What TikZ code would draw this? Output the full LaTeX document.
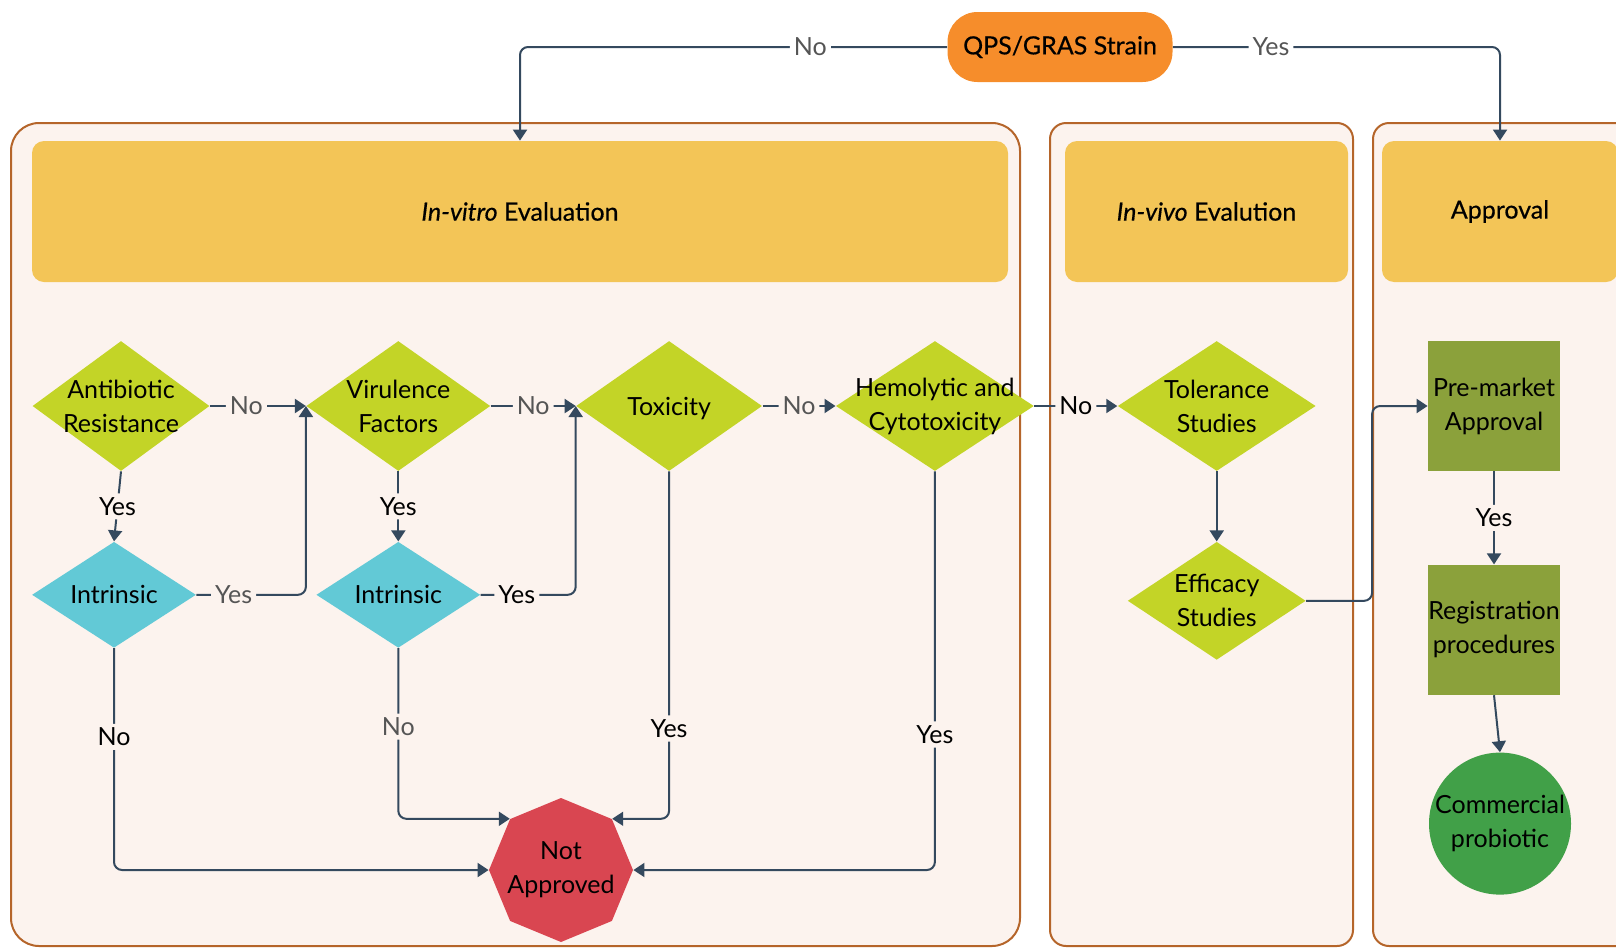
\documentclass[tikz,border=0pt]{standalone}
\usepackage{fontspec}
\setmainfont{Lato}
\newfontfamily\headfont{Lato}[FakeBold=0.5]
\usetikzlibrary{arrows.meta,positioning,shapes.geometric}
\definecolor{panelbg}{HTML}{FCF3EE}
\definecolor{panelline}{HTML}{B5652A}
\definecolor{headbg}{HTML}{F3C557}
\definecolor{qpsorange}{HTML}{F68D2B}
\definecolor{testgreen}{HTML}{C3D427}
\definecolor{intrcyan}{HTML}{62C9D6}
\definecolor{stepolive}{HTML}{8BA13B}
\definecolor{probgreen}{HTML}{41A048}
\definecolor{notred}{HTML}{D94651}
\definecolor{flowline}{HTML}{34495E}
\definecolor{lblgrey}{HTML}{555555}
\tikzset{
    panel/.style={draw=panelline,line width=1pt,fill=panelbg},
    header/.style={fill=headbg,rounded corners=6pt,minimum height=70.5pt,inner sep=0pt,font=\fontsize{12.5pt}{17pt}\headfont},
    test/.style={diamond,fill=testgreen,inner sep=0pt,minimum height=65pt},
    intr/.style={diamond,fill=intrcyan,inner sep=0pt,minimum width=82pt,minimum height=53pt},
    stepbox/.style={rectangle,fill=stepolive,inner sep=0pt,minimum width=66pt,minimum height=65pt,align=center},
    flow/.style={->,draw=flowline,line width=1pt,rounded corners=4pt},
    lbl/.style={fill=panelbg,inner sep=2pt},
    glbl/.style={lbl,text=lblgrey},
    toplbl/.style={glbl,fill=white}
}

\begin{document}
\begin{tikzpicture}[x=0.5pt,y=-0.5pt,>={Triangle[length=5.5pt,width=7pt]},font=\fontsize{12.5pt}{17pt}\selectfont]
    \useasboundingbox (0,0) rectangle (1616,948);

    \draw[panel,rounded corners=14pt] (11,123) rectangle (1020,946);
    \draw[panel,rounded corners=8pt] (1050,123) rectangle (1353,946);
    \draw[panel,rounded corners=8pt] (1373,123) rectangle (1660,946);

    \node[header,minimum width=488pt] (vitro) at (520,211.5) {\textit{In-vitro} Evaluation};
    \node[header,minimum width=141.5pt] (vivo) at (1206.5,211.5) {\textit{In-vivo} Evalution};
    \node[header,minimum width=118pt] (appr) at (1500,211.5) {Approval};

    \node[fill=qpsorange,rounded corners=15pt,minimum width=112.5pt,minimum height=35pt,font=\fontsize{12.5pt}{17pt}\headfont] (qps) at (1060,47) {QPS/GRAS Strain};

    \node[test,minimum width=88.5pt,label={[align=center]center:Antibiotic\\Resistance}] (anti) at (121,406) {};
    \node[test,minimum width=92pt,label={[align=center]center:Virulence\\Factors},right=48pt of anti] (vir) {};
    \node[test,minimum width=93pt,label={[yshift=-1.5pt]center:Toxicity},right=42.5pt of vir] (tox) {};
    \node[test,minimum width=99pt,label={[align=center]center:Hemolytic and\\Cytotoxicity},right=36.5pt of tox] (hemo) {};
    \node[test,minimum width=99pt,label={[align=center]center:Tolerance\\Studies},right=41.5pt of hemo] (tol) {};
    \node[test,minimum width=89pt,minimum height=59pt,label={[align=center]center:Efficacy\\Studies},below=35pt of tol] (eff) {};
    \node[intr,label=center:Intrinsic,below=35pt of anti,xshift=-3.5pt] (int1) {};
    \node[intr,label=center:Intrinsic,below=35pt of vir] (int2) {};

    \node[stepbox] (pre) at (1494,406) {Pre-market\\Approval};
    \node[stepbox,below=46.5pt of pre] (reg) {Registration\\procedures};
    \node[circle,fill=probgreen,minimum size=71pt,inner sep=0pt,label={[align=center]center:Commercial\\probiotic},below=28.5pt of reg,xshift=3pt] (com) {};
    \node[regular polygon,regular polygon sides=8,shape border rotate=22.5,fill=notred,minimum size=72pt,inner sep=0pt,label={[align=center]center:Not\\Approved}] (na) at (561,870) {};

    \draw[flow] (qps.west) -| node[toplbl,pos=0.16] {No} (vitro.north);
    \draw[flow] (qps.east) -| node[toplbl,pos=0.15] {Yes} (appr.north);
    \draw[flow] (anti.east) -- node[glbl,pos=0.38] {No} (vir.west);
    \draw[flow] (vir.east) -- node[glbl] {No} (tox.west);
    \draw[flow] (tox.east) -- node[glbl] {No} (hemo.west);
    \draw[flow] (hemo.east) -- node[lbl] {No} (tol.west);
    \draw[flow] (anti.south) -- node[lbl] {Yes} (int1.north);
    \draw[flow] (vir.south) -- node[lbl] {Yes} (int2.north);
    \draw[flow] (int1.east) -| node[glbl,pos=0.17] {Yes} (vir.west);
    \draw[flow] (int2.east) -| node[lbl,pos=0.19] {Yes} (tox.west);
    \draw[flow] (int1.south) |- node[lbl,pos=0.2] {No} (na.180);
    \draw[flow] (int2.south) |- node[glbl,pos=0.23] {No} (na.135);
    \draw[flow] (tox.south) |- node[lbl,pos=0.37] {Yes} (na.45);
    \draw[flow] (hemo.south) |- node[lbl,pos=0.33] {Yes} (na.0);
    \draw[flow] (tol.south) -- (eff.north);
    \draw[flow] (eff.east) -- ++(66,0) |- (pre.west);
    \draw[flow] (pre.south) -- node[lbl] {Yes} (reg.north);
    \draw[flow] (reg.south) -- (com.north);
\end{tikzpicture}
\end{document}
